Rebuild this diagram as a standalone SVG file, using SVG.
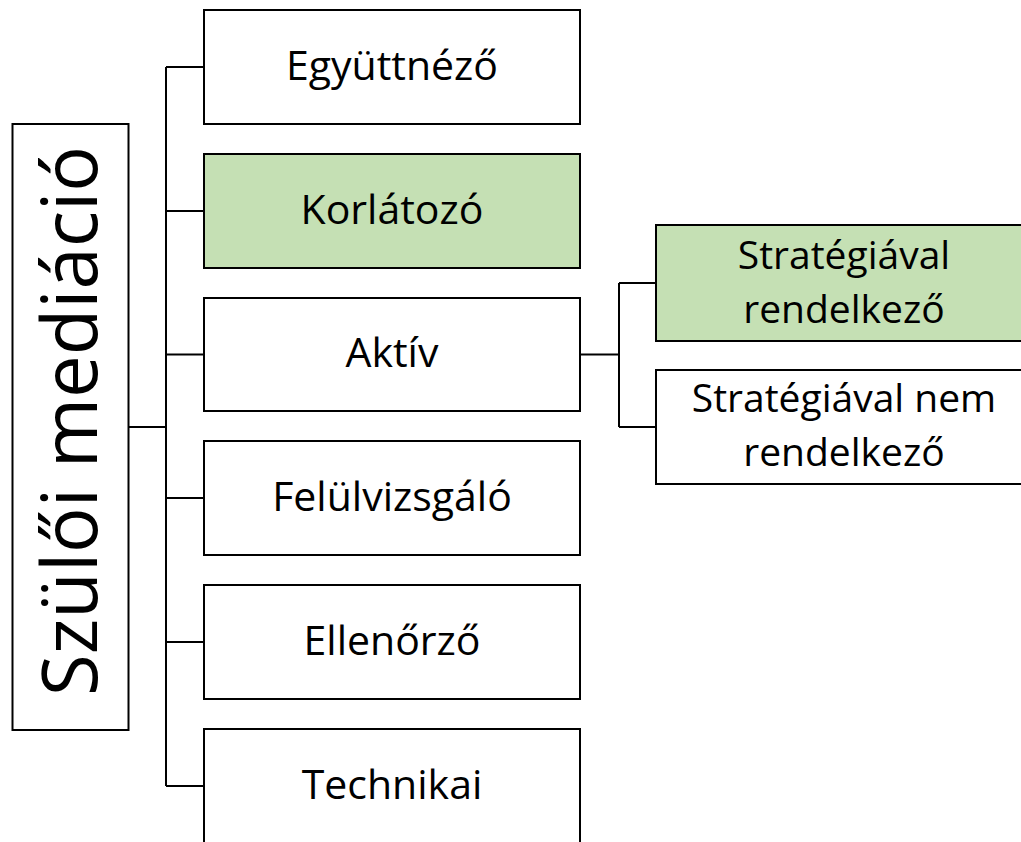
<svg xmlns="http://www.w3.org/2000/svg" width="1021" height="842" viewBox="0 0 1021 842">
<style>
.box{fill:#FFFFFF;stroke:#000000;stroke-width:2}
.green{fill:#C5E0B4}
.t{font-family:"Open Sans","Noto Sans","Liberation Sans",sans-serif;font-size:41px;fill:#000000;text-anchor:middle}
.sub{font-size:39px}
.big{font-size:76px}
.conn{fill:none;stroke:#000000;stroke-width:2}
</style>
<rect width="1021" height="842" fill="#FFFFFF"/>
<g id="connectors">
<path class="conn" d="M128,427 H166 M166,67 V786 M166,67 H204 M166,211 H204 M166,354.5 H204 M166,498 H204 M166,642 H204 M166,786 H204"/>
<path class="conn" d="M580,354.5 H619 M619,283 V427 M619,283 H656 M619,427 H656"/>
</g>
<g id="node-root">
<rect class="box" x="12.5" y="124" width="116" height="606"/>
<text class="t big" transform="translate(97,421) rotate(-90)" x="0" y="0">Szülői mediáció</text>
</g>
<g id="node-egyuttnezo">
<rect class="box" x="204" y="10" width="376" height="114"/>
<text class="t" x="392" y="80">Együttnéző</text>
</g>
<g id="node-korlatozo">
<rect class="box green" x="204" y="154" width="376" height="114"/>
<text class="t" x="392" y="224">Korlátozó</text>
</g>
<g id="node-aktiv">
<rect class="box" x="204" y="298" width="376" height="113"/>
<text class="t" x="392" y="367">Aktív</text>
</g>
<g id="node-felulvizsgalo">
<rect class="box" x="204" y="441" width="376" height="114"/>
<text class="t" x="392" y="511">Felülvizsgáló</text>
</g>
<g id="node-ellenorzo">
<rect class="box" x="204" y="585" width="376" height="114"/>
<text class="t" x="392" y="655">Ellenőrző</text>
</g>
<g id="node-technikai">
<rect class="box" x="204" y="729" width="376" height="120"/>
<text class="t" x="392" y="799">Technikai</text>
</g>
<g id="node-strat-rend">
<rect class="box green" x="656" y="225" width="376" height="116"/>
<text class="t sub" x="844" y="269">Stratégiával</text>
<text class="t sub" x="844" y="323">rendelkező</text>
</g>
<g id="node-strat-nem">
<rect class="box" x="656" y="370" width="376" height="114"/>
<text class="t sub" x="844" y="412">Stratégiával nem</text>
<text class="t sub" x="844" y="466">rendelkező</text>
</g>
</svg>
